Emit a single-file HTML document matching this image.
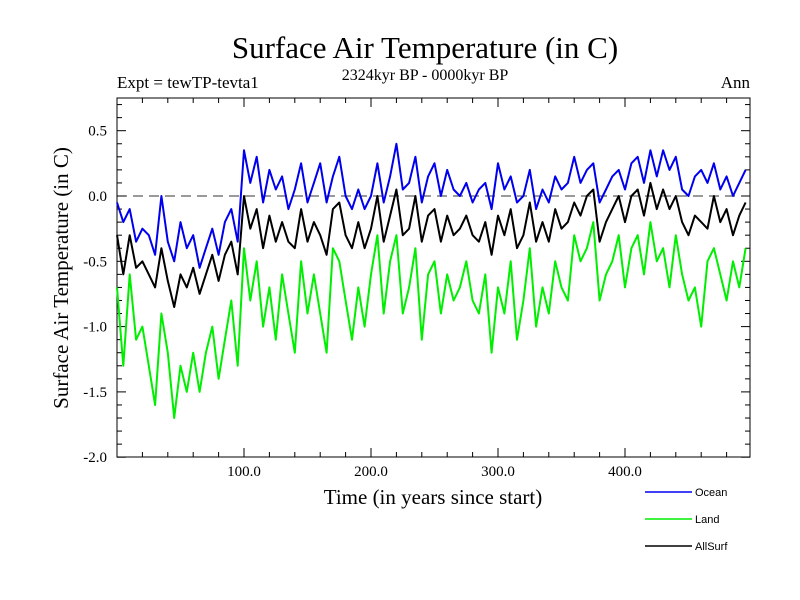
<!DOCTYPE html>
<html><head><meta charset="utf-8"><style>
body{margin:0;background:#fff}
svg{display:block}
text{font-family:"Liberation Serif",serif;fill:#000}
</style></head><body>
<svg id="c" width="800" height="600">
<text x="425" y="58" font-size="31" text-anchor="middle">Surface Air Temperature (in C)</text>
<text x="117" y="88" font-size="17">Expt = tewTP-tevta1</text>
<text x="425" y="80" font-size="16" text-anchor="middle">2324kyr BP - 0000kyr BP</text>
<text x="750" y="88" font-size="17" text-anchor="end">Ann</text>
<text transform="translate(68,278) rotate(-90)" font-size="21" text-anchor="middle">Surface Air Temperature (in C)</text>
<text x="433" y="504" font-size="21" text-anchor="middle">Time (in years since start)</text>
<g id="axes"></g>
<g id="series"></g>
<g id="legend"></g>
</svg>
<script>
const years = [];
for (let i = 0; i < 100; i++) years.push(i * 5);
const ocean = [-0.05,-0.2,-0.1,-0.35,-0.25,-0.3,-0.45,0.0,-0.35,-0.5,-0.2,-0.4,-0.3,-0.55,-0.4,-0.25,-0.45,-0.2,-0.1,-0.35,
0.35,0.1,0.3,-0.05,0.2,0.05,0.15,-0.1,0.05,0.25,-0.05,0.1,0.25,-0.05,0.15,0.3,0.0,-0.1,0.05,-0.1,
0.0,0.25,-0.05,0.15,0.4,0.05,0.1,0.3,-0.05,0.15,0.25,0.0,0.2,0.05,0.0,0.1,-0.05,0.05,0.1,-0.1,
0.25,0.05,0.15,-0.05,0.0,0.2,-0.1,0.05,-0.05,0.15,0.05,0.1,0.3,0.1,0.2,0.25,-0.05,0.05,0.15,0.2,
0.05,0.25,0.3,0.1,0.35,0.15,0.35,0.2,0.3,0.05,0.0,0.15,0.2,0.1,0.25,0.05,0.15,0.0,0.1,0.2];
const land = [-0.7,-1.3,-0.6,-1.1,-1.0,-1.3,-1.6,-0.9,-1.2,-1.7,-1.3,-1.5,-1.2,-1.5,-1.2,-1.0,-1.4,-1.1,-0.8,-1.3,
-0.4,-0.8,-0.5,-1.0,-0.7,-1.1,-0.6,-0.9,-1.2,-0.5,-0.9,-0.6,-0.9,-1.2,-0.4,-0.5,-0.8,-1.1,-0.7,-1.0,
-0.6,-0.3,-0.9,-0.5,-0.3,-0.9,-0.7,-0.4,-1.1,-0.6,-0.5,-0.9,-0.6,-0.8,-0.7,-0.5,-0.8,-0.9,-0.6,-1.2,
-0.7,-0.9,-0.5,-1.1,-0.8,-0.4,-1.0,-0.7,-0.9,-0.5,-0.7,-0.8,-0.3,-0.5,-0.4,-0.2,-0.8,-0.6,-0.5,-0.3,
-0.7,-0.4,-0.3,-0.6,-0.2,-0.5,-0.4,-0.7,-0.3,-0.6,-0.8,-0.7,-1.0,-0.5,-0.4,-0.6,-0.8,-0.5,-0.7,-0.4];
const allsurf = [-0.3,-0.6,-0.3,-0.55,-0.5,-0.6,-0.7,-0.4,-0.65,-0.85,-0.6,-0.7,-0.55,-0.75,-0.6,-0.45,-0.65,-0.45,-0.35,-0.6,
0.0,-0.25,-0.1,-0.4,-0.15,-0.35,-0.2,-0.35,-0.4,-0.1,-0.35,-0.2,-0.3,-0.45,-0.1,-0.05,-0.3,-0.4,-0.2,-0.4,
-0.25,0.0,-0.35,-0.15,0.05,-0.3,-0.25,0.0,-0.35,-0.15,-0.1,-0.35,-0.15,-0.3,-0.25,-0.15,-0.3,-0.35,-0.2,-0.45,
-0.15,-0.3,-0.1,-0.4,-0.3,-0.05,-0.35,-0.2,-0.35,-0.1,-0.25,-0.2,-0.05,-0.15,0.0,0.05,-0.35,-0.2,-0.1,0.0,
-0.2,0.0,0.05,-0.15,0.1,-0.1,0.05,-0.1,0.0,-0.2,-0.3,-0.15,-0.2,-0.25,0.0,-0.2,-0.1,-0.3,-0.15,-0.05];
const yTicks = [0.5,0.0,-0.5,-1.0,-1.5,-2.0];
const yTickLabels = ["0.5","0.0","-0.5","-1.0","-1.5","-2.0"];
const xTicks = [100,200,300,400];
const xTickLabels = ["100.0","200.0","300.0","400.0"];
const legendNames = ["Ocean","Land","AllSurf"];

const NS = "http://www.w3.org/2000/svg";
const X0 = 117, X1 = 750, Y0 = 98, Y1 = 457;
const xs = v => X0 + v * 1.27;
const ys = v => 196 - v * 130.6;
function mk(tag, attrs, parent) {
  const e = document.createElementNS(NS, tag);
  for (const k in attrs) e.setAttribute(k, attrs[k]);
  parent.appendChild(e);
  return e;
}
const axes = document.getElementById('axes');
const frame = mk('rect', {x: X0, y: Y0, width: X1 - X0, height: Y1 - Y0, fill: 'none', stroke: '#000', 'stroke-width': 1}, axes);


const zl = mk('line', {x1: X0, x2: X1, y1: ys(0), y2: ys(0), stroke: '#333', 'stroke-dasharray': '10,6'}, axes);


for (let v = -2.0; v <= 0.751; v += 0.1) {
  const y = ys(v); const major = Math.abs(Math.round(v * 10) % 5) === 0;
  const len = major ? 9 : 5;
  const t1 = mk('line', {x1: X0, x2: X0 + len, y1: y, y2: y, stroke: '#000'}, axes);
  
  
  const t2 = mk('line', {x1: X1, x2: X1 - len, y1: y, y2: y, stroke: '#000'}, axes);
  
  
}
yTicks.forEach((v, i) => {
  const t = mk('text', {x: 107, y: ys(v) + 5, 'font-size': 15, 'text-anchor': 'end'}, axes);
  t.textContent = yTickLabels[i];
  
  
});
for (let v = 20; v < 500; v += 20) {
  const major = v % 100 === 0; const len = major ? 9 : 5;
  const t1 = mk('line', {x1: xs(v), x2: xs(v), y1: Y1, y2: Y1 - len, stroke: '#000'}, axes);
  
  
  const t2 = mk('line', {x1: xs(v), x2: xs(v), y1: Y0, y2: Y0 + len, stroke: '#000'}, axes);
  
  
}
xTicks.forEach((v, i) => {
  const t = mk('text', {x: xs(v), y: 476, 'font-size': 15, 'text-anchor': 'middle'}, axes);
  t.textContent = xTickLabels[i];
  
  
});
const series = document.getElementById('series');
const defs = [[land, '#00ee00', 'land-line'], [ocean, '#0000ee', 'ocean-line'], [allsurf, '#000', 'allsurf-line']];
defs.forEach(([arr, col, nm]) => {
  const d = arr.map((v, i) => (i ? 'L' : 'M') + xs(years[i]).toFixed(1) + ',' + ys(v).toFixed(1)).join('');
  const p = mk('path', {d: d, fill: 'none', stroke: col, 'stroke-width': 2, 'stroke-linejoin': 'round'}, series);
  
  
});
const legend = document.getElementById('legend');
const lcols = ['#0000ee', '#00ee00', '#000'];
legendNames.forEach((n, i) => {
  const y = 492 + i * 27;
  const l = mk('line', {x1: 645, x2: 692, y1: y, y2: y, stroke: lcols[i], 'stroke-width': 1.5}, legend);
  
  
  const t = mk('text', {x: 695, y: y + 4, 'font-size': 11, style: 'font-family:"Liberation Sans",sans-serif'}, legend);
  t.textContent = n;
  
  
});
</script>
</body></html>
